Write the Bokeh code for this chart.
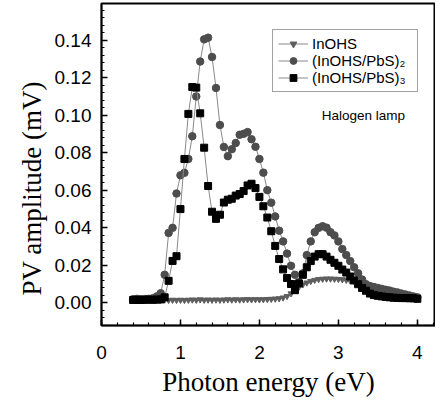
from bokeh.plotting import figure
from bokeh.models import (Range1d, SingleIntervalTicker, PrintfTickFormatter, Legend,
                          LegendItem, Label, Title)
from bokeh.embed import file_html
from bokeh.resources import INLINE

# ---------------- data ----------------
x_tri = [0.40, 0.45, 0.50, 0.55, 0.60, 0.65, 0.70, 0.75, 0.80, 0.85, 0.90, 0.95,
         1.00, 1.05, 1.10, 1.15, 1.20, 1.25, 1.30, 1.35, 1.40, 1.45, 1.50, 1.55,
         1.60, 1.65, 1.70, 1.75, 1.80, 1.85, 1.90, 1.95, 2.00, 2.05, 2.10, 2.15,
         2.20, 2.25, 2.30, 2.35, 2.40, 2.45, 2.50, 2.55, 2.60, 2.65, 2.70, 2.75,
         2.80, 2.85, 2.90, 2.95, 3.00, 3.05, 3.10, 3.15, 3.20, 3.25, 3.30, 3.35,
         3.40, 3.45, 3.50, 3.55, 3.60, 3.65, 3.70, 3.75, 3.80, 3.85, 3.90, 3.95, 4.00]
y_inohs = [0.0015, 0.0016, 0.0014, 0.0016, 0.0015, 0.0015, 0.0016, 0.0015, 0.0017, 0.0015,
           0.0016, 0.0015, 0.0016, 0.0015, 0.0016, 0.0017, 0.0016, 0.0018, 0.0016, 0.0017,
           0.0016, 0.0017, 0.0016, 0.0017, 0.0018, 0.0017, 0.0018, 0.0017, 0.0018, 0.0019,
           0.0018, 0.0019, 0.0018, 0.0019, 0.0020, 0.0021, 0.0022, 0.0024, 0.0028, 0.0036,
           0.0050, 0.0068, 0.0085, 0.0098, 0.0108, 0.0116, 0.0122, 0.0126, 0.0128, 0.0129,
           0.0129, 0.0128, 0.0127, 0.0125, 0.0122, 0.0118, 0.0114, 0.0110, 0.0105, 0.0100,
           0.0095, 0.0090, 0.0085, 0.0080, 0.0075, 0.0070, 0.0064, 0.0058, 0.0052, 0.0046,
           0.0040, 0.0034, 0.0029]

x_pbs2 = [0.40, 0.45, 0.50, 0.55, 0.60, 0.65, 0.70, 0.75, 0.80, 0.85, 0.90, 0.95,
          1.00, 1.05, 1.10, 1.15, 1.20, 1.25, 1.30, 1.35, 1.40, 1.45, 1.50, 1.55,
          1.60, 1.65, 1.70, 1.75, 1.80, 1.85, 1.90, 1.95, 2.00, 2.05, 2.10, 2.15,
          2.20, 2.25, 2.30, 2.35, 2.40, 2.45, 2.50, 2.55, 2.60, 2.65, 2.70, 2.75,
          2.80, 2.85, 2.90, 2.95, 3.00, 3.05, 3.10, 3.15, 3.20, 3.25, 3.30, 3.35,
          3.40, 3.45, 3.50, 3.55, 3.60, 3.65, 3.70, 3.75, 3.80, 3.85, 3.90, 3.95, 4.00]
y_pbs2 = [0.0020, 0.0022, 0.0020, 0.0021, 0.0022, 0.0025, 0.0035, 0.0052, 0.0150, 0.0373,
          0.0400, 0.0583, 0.0680, 0.0693, 0.0767, 0.0888, 0.1100, 0.1286, 0.1404, 0.1413,
          0.1310, 0.1145, 0.0948, 0.0831, 0.0782, 0.0819, 0.0852, 0.0896, 0.0901, 0.0910,
          0.0872, 0.0832, 0.0767, 0.0694, 0.0601, 0.0534, 0.0461, 0.0385, 0.0328, 0.0263,
          0.0198, 0.0150, 0.0110, 0.0158, 0.0255, 0.0328, 0.0377, 0.0400, 0.0409, 0.0401,
          0.0377, 0.0360, 0.0328, 0.0287, 0.0255, 0.0223, 0.0190, 0.0158, 0.0125, 0.0100,
          0.0090, 0.0085, 0.0080, 0.0075, 0.0070, 0.0066, 0.0060, 0.0056, 0.0050, 0.0045,
          0.0040, 0.0035, 0.0030]

x_pbs3 = [0.40, 0.45, 0.50, 0.55, 0.60, 0.65, 0.70, 0.75, 0.80, 0.85, 0.90, 0.95,
          1.00, 1.05, 1.10, 1.15, 1.20, 1.25, 1.30, 1.35, 1.40, 1.45, 1.50, 1.55,
          1.60, 1.65, 1.70, 1.75, 1.80, 1.85, 1.90, 1.95, 2.00, 2.05, 2.10, 2.15,
          2.20, 2.25, 2.30, 2.35, 2.40, 2.45, 2.50, 2.55, 2.60, 2.65, 2.70, 2.75,
          2.80, 2.85, 2.90, 2.95, 3.00, 3.05, 3.10, 3.15, 3.20, 3.25, 3.30, 3.35,
          3.40, 3.45, 3.50, 3.55, 3.60, 3.65, 3.70, 3.75, 3.80, 3.85, 3.90, 3.95, 4.00]
y_pbs3 = [0.0016, 0.0017, 0.0016, 0.0017, 0.0018, 0.0017, 0.0018, 0.0019, 0.0030, 0.0118,
          0.0224, 0.0249, 0.0500, 0.0767, 0.1007, 0.1150, 0.1147, 0.1010, 0.0827, 0.0623,
          0.0486, 0.0448, 0.0470, 0.0535, 0.0550, 0.0555, 0.0572, 0.0580, 0.0596, 0.0626,
          0.0635, 0.0612, 0.0565, 0.0515, 0.0455, 0.0382, 0.0304, 0.0234, 0.0179, 0.0133,
          0.0101, 0.0068, 0.0104, 0.0150, 0.0190, 0.0223, 0.0247, 0.0260, 0.0260, 0.0247,
          0.0230, 0.0214, 0.0198, 0.0178, 0.0162, 0.0141, 0.0120, 0.0100, 0.0080, 0.0065,
          0.0050, 0.0042, 0.0038, 0.0035, 0.0032, 0.0030, 0.0028, 0.0027, 0.0026, 0.0026,
          0.0025, 0.0025, 0.0022]

series_labels = ["InOHS", "(InOHS/PbS)\u2082", "(InOHS/PbS)\u2083"]
x_title = "Photon energy (eV)"
y_title = "PV amplitude (mV)"
note = "Halogen lamp"

# ---------------- figure ----------------
p = figure(width=435, height=401, output_backend="svg", toolbar_location=None,
           x_range=Range1d(0, 4.23), y_range=Range1d(-0.012, 0.1595),
           min_border_left=101, min_border_right=0, min_border_top=3, min_border_bottom=76)
p.grid.grid_line_color = None
p.outline_line_color = "black"
p.outline_line_width = 2
p.outline_line_alpha = 1
p.background_fill_color = "white"
p.border_fill_color = "white"

SANS = "Liberation Sans"
SERIF = "Liberation Serif"

for ax in (p.xaxis[0], p.yaxis[0]):
    ax.axis_line_width = 1.5
    ax.axis_line_color = "black"
    ax.major_tick_in = 6
    ax.major_tick_out = 0
    ax.minor_tick_in = 3
    ax.minor_tick_out = 0
    ax.major_tick_line_width = 1.5
    ax.minor_tick_line_width = 1.2
    ax.major_label_text_font = SANS
    ax.major_label_text_font_size = "19px"
    ax.major_label_text_color = "black"
    ax.axis_label_text_font = SERIF
    ax.axis_label_text_font_size = "27px"
    ax.axis_label_text_font_style = "normal"
    ax.axis_label_text_color = "black"

p.xaxis[0].ticker = SingleIntervalTicker(interval=1, num_minor_ticks=5)
p.yaxis[0].ticker = SingleIntervalTicker(interval=0.02, num_minor_ticks=5)
p.yaxis[0].formatter = PrintfTickFormatter(format="%.2f")
p.xaxis[0].axis_label = x_title
p.xaxis[0].major_label_standoff = 20
p.yaxis[0].major_label_standoff = 10
p.xaxis[0].axis_label_standoff = 5

# y-axis title as a side title (shifted toward the bottom like the reference)
ytitle = Title(text=y_title, align="left", offset=30, standoff=10,
               text_font=SERIF, text_font_size="27px", text_font_style="normal",
               text_color="black")
p.add_layout(ytitle, "left")

line_col = "#8a8a8a"
l1 = p.line(x_tri, y_inohs, line_color=line_col, line_width=1)
s1 = p.scatter(x_tri, y_inohs, marker="inverted_triangle", size=6,
               fill_color="#5e5e5e", line_color="#5e5e5e")
l2 = p.line(x_pbs2, y_pbs2, line_color=line_col, line_width=1)
s2 = p.scatter(x_pbs2, y_pbs2, marker="circle", size=7.5,
               fill_color="#4d4d4d", line_color="#4d4d4d")
l3 = p.line(x_pbs3, y_pbs3, line_color=line_col, line_width=1)
s3 = p.scatter(x_pbs3, y_pbs3, marker="square", size=7,
               fill_color="black", line_color="black")

legend = Legend(items=[LegendItem(label=series_labels[0], renderers=[l1, s1]),
                       LegendItem(label=series_labels[1], renderers=[l2, s2]),
                       LegendItem(label=series_labels[2], renderers=[l3, s3])],
                location=(171, 233))
legend.label_text_font = SANS
legend.label_text_font_size = "15px"
legend.label_text_color = "black"
legend.glyph_width = 30
legend.glyph_height = 17
legend.label_height = 17
legend.label_width = 100
legend.label_standoff = 4
legend.spacing = 0
legend.padding = 5
legend.margin = 0
legend.border_line_color = "#444444"
legend.border_line_width = 1
legend.background_fill_color = "white"
legend.background_fill_alpha = 1
p.add_layout(legend, "center")

p.add_layout(Label(x=2.79, y=0.100, text=note, text_font=SANS, text_font_size="13.5px",
                   text_baseline="middle", text_align="left", text_color="black"))

open("out.html", "w").write(file_html(p, INLINE))
